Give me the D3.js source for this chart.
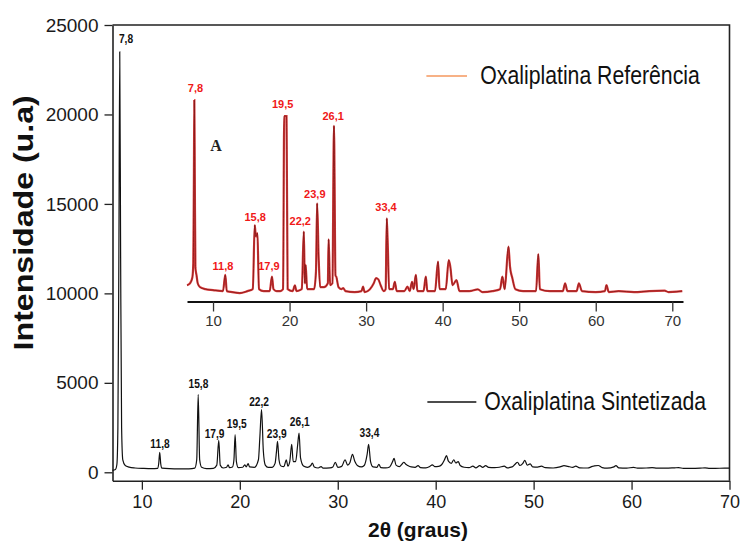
<!DOCTYPE html>
<html>
<head>
<meta charset="utf-8">
<script src="https://cdn.jsdelivr.net/npm/d3@7"></script>
<style>
  html, body { margin: 0; padding: 0; background: #fff; }
  svg { display: block; font-family: "Liberation Sans", Arial, sans-serif; }
</style>
</head>
<body>
<svg id="chart" width="740" height="543"></svg>
<script>
// ---------- DATA ----------
// Synthesized oxaliplatin diffractogram: [2θ, intensity]
const synthPattern = [
  [7.0,110],[7.3,160],[7.45,450],[7.55,2500],[7.65,12000],[7.74,23500],[7.83,12000],[7.93,2500],[8.05,700],[8.3,380],[8.7,290],[9.3,240],[10.2,215],[11.0,205],
  [11.6,220],[11.72,500],[11.82,1120],[11.92,500],[12.05,230],[12.8,200],[13.8,190],[14.8,195],[15.4,230],[15.6,700],[15.75,4350],[15.9,700],[16.1,280],[16.6,210],
  [17.3,220],[17.65,400],[17.85,1780],[18.0,400],[18.3,240],[18.65,280],[18.8,420],[18.95,260],[19.25,300],[19.4,700],[19.52,2100],[19.65,600],[19.85,260],
  [20.3,280],[20.5,420],[20.65,300],[20.85,480],[21.0,300],[21.5,280],[21.9,700],[22.05,2000],[22.22,3500],[22.4,1200],[22.6,400],[22.9,270],[23.3,280],
  [23.6,500],[23.75,1200],[23.85,1730],[24.0,700],[24.2,350],[24.5,320],[24.75,700],[24.9,350],[25.1,600],[25.3,1560],[25.45,600],[25.7,600],[25.9,1500],
  [26.05,2190],[26.2,800],[26.5,350],[26.9,280],[27.25,380],[27.4,520],[27.6,300],[28.0,240],[28.3,320],[28.5,230],[29.2,250],[29.5,300],[29.75,560],[30.0,280],
  [30.4,330],[30.75,700],[31.0,400],[31.25,550],[31.5,1000],[31.75,600],[32.0,380],[32.4,300],[32.7,380],[33.0,1000],[33.15,1560],[33.35,600],[33.6,300],
  [34.0,280],[34.2,450],[34.4,260],[34.9,250],[35.3,300],[35.6,600],[35.75,780],[35.95,400],[36.3,320],[36.55,450],[36.75,560],[36.95,450],[37.15,380],
  [37.5,300],[37.9,280],[38.2,370],[38.45,260],[39.0,250],[39.4,330],[39.65,420],[39.9,320],[40.3,330],[40.6,420],[40.9,700],[41.1,930],[41.3,620],[41.6,500],
  [41.85,700],[42.05,520],[42.3,600],[42.5,380],[42.9,280],[43.4,260],[43.8,340],[44.1,250],[44.5,370],[44.8,280],[45.1,370],[45.4,270],[46.0,260],[46.5,280],
  [47.0,340],[47.3,250],[47.8,300],[48.1,450],[48.35,560],[48.6,380],[48.9,500],[49.1,670],[49.35,400],[49.65,470],[49.9,300],[50.4,290],[50.8,340],[51.2,260],
  [52.0,240],[52.7,300],[53.1,370],[53.5,330],[54.0,280],[54.3,340],[54.7,250],[55.5,240],[56.0,330],[56.2,360],[56.6,380],[57.0,260],[57.5,230],[58.2,300],
  [58.4,370],[58.7,250],[59.5,230],[60.2,280],[60.6,230],[61.5,240],[62.1,260],[62.6,230],[63.5,230],[64.4,250],[64.8,260],[65.3,220],[66.0,220],[67.0,230],
  [67.5,250],[68.0,220],[69.0,225],[70.0,230]
];

// Reference pattern (inset, relative intensity %): [2θ, rel]
const refPattern = [
  [6.6,5],[7.0,6],[7.3,9],[7.42,16],[7.5,60],[7.56,100],[7.62,60],[7.7,14],[7.85,10],[8.0,6],[8.3,4],[9.0,3],[10,2.5],[11.3,2],[11.6,10.3],[11.8,2],[12.5,1.5],[13.5,1],[14.5,2],
  [15.2,3],[15.45,35.9],[15.6,30],[15.8,31.8],[16.0,3],[16.6,2],[17.4,2],[17.7,9.4],[17.9,3],[18.3,2],[18.8,2],[19.15,3],[19.3,91.8],[19.6,91.8],[19.75,3],
  [20.4,2],[20.7,5],[20.9,2],[21.6,3],[21.86,32.5],[22.0,6],[22.1,15.4],[22.3,3],[23.2,3],[23.45,12],[23.6,47],[23.8,19],[24.0,4],[24.5,4],[25.0,6],[25.1,28.6],
  [25.3,5],[25.6,6],[25.8,86.8],[26.0,10],[26.1,9.4],[26.4,4],[26.8,3],[27.0,3.6],[27.3,2],[28.5,1.5],[29.4,2],[29.6,4.3],[29.8,1.5],[30.5,3],[31.0,6],[31.3,8.7],
  [31.6,8],[31.9,5],[32.3,2],[32.55,3],[32.7,39.3],[32.85,23],[33.0,3],[33.5,3],[33.75,6.8],[34.0,2],[35.0,2],[35.4,4.3],[35.7,2],[36.0,6.8],[36.2,3],[36.5,10.3],
  [36.7,2],[37.5,2],[37.8,9.4],[38.0,2],[39.0,2],[39.4,17.1],[39.6,3],[40.4,3],[40.8,17.9],[41.0,14.5],[41.3,5],[41.8,7.7],[42.2,2],[43.5,2],[44.6,2.9],[45.2,1.5],
  [46.5,2],[47.5,3],[47.8,9.4],[48.1,3],[48.6,24.8],[48.8,14.5],[49.1,8.7],[49.5,3],[50.5,2],[52.2,2],[52.5,21],[52.7,3],[54,2],[55.7,2],[56.0,6],[56.3,2],
  [57.5,2],[57.8,6],[58.2,2],[60,1.5],[61.2,2],[61.4,5.1],[61.7,1.5],[63,2],[65,1.5],[67,2],[69,2.2],[69.5,1.5],[70.6,1.7],[71.3,2]
];

// Peak annotations (text, 2θ anchor, intensity anchor)
const synthLabels = [
  ["7,8", 8.38, 24000], ["11,8", 11.85, 1360], ["15,8", 15.77, 4710], ["17,9", 17.42, 1920], ["19,5", 19.69, 2480],
  ["22,2", 21.97, 3700], ["23,9", 23.77, 1920], ["26,1", 26.12, 2590], ["33,4", 33.23, 1970]
];
const refLabels = [
  ["7,8", 7.7, 104], ["19,5", 19.1, 96], ["26,1", 25.7, 90], ["15,8", 15.5, 38], ["22,2", 21.4, 36],
  ["23,9", 23.3, 50], ["33,4", 32.6, 43], ["11,8", 11.3, 13], ["17,9", 17.3, 13]
];

const xTicksMajor = [10, 20, 30, 40, 50, 60, 70];
const yTicksMajor = [0, 5000, 10000, 15000, 20000, 25000];
const yTicksMinor = [2500, 7500, 12500, 17500, 22500];
const insetTicksMajor = [10, 20, 30, 40, 50, 60, 70];

const legendNames = ["Oxaliplatina Referência", "Oxaliplatina Sintetizada"];
const xTitle = "2θ (graus)";
const yTitle = "Intensidade (u.a)";

// ---------- DRAW ----------
const svg = d3.select("#chart");
const L = 112.5, R = 729.5, T = 25, B = 480.7;

const x = d3.scaleLinear().domain([7, 70]).range([L, R]);
const y = d3.scaleLinear().domain([-470, 25000]).range([B, T]);

const xi = d3.scaleLinear().domain([6.6, 71.4]).range([187, 683]);
const yi = d3.scaleLinear().domain([0, 100]).range([295, 100]);

// frame (top & right)
svg.append("path")
  .attr("d", `M${L},${T}H${R}V${B}`)
  .attr("fill", "none").attr("stroke", "#222").attr("stroke-width", 1.6);

// x axis
const minorX = d3.range(8, 70, 1).filter(v => v % 10 !== 0);
const gx = svg.append("g").attr("transform", `translate(0,${B})`);
gx.call(d3.axisBottom(x).tickValues(minorX).tickSize(4).tickFormat("").tickSizeOuter(0));
gx.call(d3.axisBottom(x).tickValues(xTicksMajor).tickSize(9).tickPadding(6).tickSizeOuter(0));
gx.selectAll("path.domain").attr("stroke", "#222").attr("stroke-width", 1.6);
gx.selectAll("line").attr("stroke", "#222").attr("stroke-width", 1.3);
gx.selectAll("text").attr("font-size", 18).attr("fill", "#1a1a1a").attr("font-family", "Liberation Sans, Arial, sans-serif");

// y axis
const gy = svg.append("g").attr("transform", `translate(${L},0)`);
gy.call(d3.axisLeft(y).tickValues(yTicksMinor).tickSize(5).tickFormat("").tickSizeOuter(0));
gy.call(d3.axisLeft(y).tickValues(yTicksMajor).tickSize(8).tickPadding(6).tickFormat(d3.format("d")).tickSizeOuter(0));
gy.selectAll("path.domain").attr("stroke", "#222").attr("stroke-width", 1.6);
gy.selectAll("line").attr("stroke", "#222").attr("stroke-width", 1.3);
gy.selectAll("text").attr("font-size", 19).attr("fill", "#1a1a1a").attr("font-family", "Liberation Sans, Arial, sans-serif");

// main curve
const line = d3.line().x(d => x(d[0])).y(d => y(d[1])).curve(d3.curveMonotoneX);
svg.append("path").datum(synthPattern)
  .attr("d", line).attr("fill", "none").attr("stroke", "#111").attr("stroke-width", 1.2);

// inset curve
const lineI = d3.line().x(d => xi(d[0])).y(d => yi(d[1])).curve(d3.curveMonotoneX);
svg.append("path").datum(refPattern)
  .attr("d", lineI).attr("fill", "none").attr("stroke", "#d41a1a").attr("stroke-width", 2.2).attr("stroke-opacity", 0.85);
svg.append("path").datum(refPattern)
  .attr("d", lineI).attr("fill", "none").attr("stroke", "#7e1616").attr("stroke-width", 0.8);

// inset axis
const insetAxisY = 301.5;
const gi = svg.append("g").attr("transform", `translate(0,${insetAxisY})`);
const minorI = d3.range(7, 72, 1).filter(v => v % 10 !== 0);
gi.call(d3.axisBottom(xi).tickValues(minorI).tickSize(4).tickFormat("").tickSizeOuter(0));
gi.call(d3.axisBottom(xi).tickValues(insetTicksMajor).tickSize(10).tickPadding(4).tickSizeOuter(0));
gi.selectAll("path.domain").attr("stroke", "#111").attr("stroke-width", 2.2);
gi.selectAll("line").attr("stroke", "#333").attr("stroke-width", 1.3);
gi.selectAll("text").attr("font-size", 15).attr("fill", "#333").attr("font-family", "Liberation Sans, Arial, sans-serif");

// "A" marker
svg.append("text").attr("x", xi(10.4)).attr("y", yi(74))
  .attr("text-anchor", "middle").attr("font-family", "Liberation Serif, Times New Roman, serif")
  .attr("font-weight", "bold").attr("font-size", 16).attr("fill", "#222").text("A");

// annotations
svg.append("g").selectAll("text").data(synthLabels).join("text")
  .attr("transform", d => `translate(${x(d[1])},${y(d[2])}) scale(0.85,1)`)
  .attr("text-anchor", "middle").attr("font-weight", "bold").attr("font-size", 12).attr("fill", "#111")
  .text(d => d[0]);

svg.append("g").selectAll("text").data(refLabels).join("text")
  .attr("transform", d => `translate(${xi(d[1])},${yi(d[2])})`)
  .attr("text-anchor", "middle").attr("font-weight", "bold").attr("font-size", 11).attr("fill", "#f01818")
  .text(d => d[0]);

// legend
const legendColors = ["#f4975e", "#111"];
const legendY = [y(22150), y(3930)];
const legendLineX = [[x(39.05), x(43.2)], [x(39.15), x(44.15)]];
const legendTextX = [x(44.55), x(44.95)];
legendNames.forEach((name, i) => {
  svg.append("line").attr("x1", legendLineX[i][0]).attr("x2", legendLineX[i][1])
    .attr("y1", legendY[i]).attr("y2", legendY[i])
    .attr("stroke", legendColors[i]).attr("stroke-width", 1.5);
  svg.append("text")
    .attr("transform", `translate(${legendTextX[i]},${legendY[i] + 8.5}) scale(0.85,1)`)
    .attr("font-size", 25).attr("fill", "#111").text(name);
});

// axis titles
svg.append("text").attr("x", (L + R) / 2 - 3).attr("y", 537)
  .attr("text-anchor", "middle").attr("font-weight", "bold").attr("font-size", 21).attr("fill", "#111")
  .text(xTitle);
svg.append("text")
  .attr("transform", `translate(33,${(T + B) / 2 - 30}) rotate(-90) scale(1.19,1)`)
  .attr("text-anchor", "middle").attr("font-weight", "bold").attr("font-size", 27).attr("fill", "#111")
  .text(yTitle);
</script>
</body>
</html>
